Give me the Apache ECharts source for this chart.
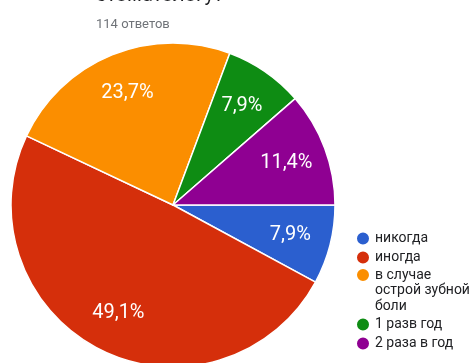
<!DOCTYPE html>
<html>
<head>
<meta charset="utf-8">
<script src="https://cdn.jsdelivr.net/npm/echarts@6/dist/echarts.min.js"></script>
<style>
  html, body { margin: 0; padding: 0; background: #fff; }
  #chart { width: 473px; height: 363px; }
</style>
</head>
<body>
<div id="chart"></div>
<script>
// Survey answers: how often respondents visit the dentist
const categories = ['никогда', 'иногда', 'в случае\nострой зубной\nболи', '1 разв год', '2 раза в год'];
const counts = [9, 56, 27, 9, 13];
const colors = ['#2b5fcf', '#d52f0b', '#fb8e00', '#0e8c13', '#8f0092'];
const titleText = 'стоматологу?';
const subtitleText = '114 ответов';

const total = counts.reduce((a, b) => a + b, 0);
const pieData = categories.map((name, i) => ({
  name: name,
  value: counts[i],
  itemStyle: { color: colors[i] }
}));

const fmtPct = v => (v / total * 100).toFixed(1).replace('.', ',') + '%';
const font = 'Roboto, "Noto Sans", sans-serif';
const center = [173, 205];

// Legend split in three blocks so the wrapped entry keeps its marker on the first line
const lineH = 15.5;
const legendText = { fontFamily: font, fontSize: 14, color: '#202124', lineHeight: lineH };
const legendBase = {
  orient: 'vertical',
  left: 355,
  icon: 'circle',
  itemWidth: 14,
  itemHeight: 14,
  itemGap: 3,
  padding: 0
};

const chart = echarts.init(document.getElementById('chart'), null, { renderer: 'canvas' });
chart.setOption({
  animation: false,
  title: [
    { text: titleText, left: 91, top: -19.5,
      textStyle: { fontFamily: font, fontSize: 20, fontWeight: 'normal', color: '#202124' } },
    { text: subtitleText, left: 91, top: 13,
      textStyle: { fontFamily: font, fontSize: 13, fontWeight: 'normal', color: '#6f7378' } }
  ],
  legend: [
    Object.assign({}, legendBase, {
      top: 230.5,
      data: categories.slice(0, 2),
      textStyle: Object.assign({ height: 16 }, legendText)
    }),
    Object.assign({}, legendBase, {
      // two leading blank lines keep the marker beside the first text line
      top: 275 - 2.5 * lineH,
      data: categories.slice(2, 3),
      formatter: '\n\n{name}',
      textStyle: legendText
    }),
    Object.assign({}, legendBase, {
      top: 316.5,
      data: categories.slice(3),
      textStyle: Object.assign({ height: 16 }, legendText)
    })
  ],
  series: [
    {
      // slices
      type: 'pie',
      center: center,
      radius: [0, 162],
      startAngle: 0,
      clockwise: true,
      data: pieData,
      label: { show: false },
      labelLine: { show: false },
      itemStyle: { borderColor: '#fff', borderWidth: 1.5 }
    },
    {
      // percentage labels placed on a transparent ring
      type: 'pie',
      center: center,
      radius: [74, 162],
      startAngle: 0,
      clockwise: true,
      silent: true,
      legendHoverLink: false,
      data: categories.map((name, i) => ({ name: name, value: counts[i] })),
      itemStyle: { color: 'rgba(0,0,0,0)', borderWidth: 0 },
      label: {
        show: true,
        position: 'inside',
        formatter: p => fmtPct(p.value),
        fontFamily: font,
        fontSize: 20,
        color: '#fff'
      },
      labelLine: { show: false },
      emphasis: { disabled: true }
    }
  ]
});
</script>
</body>
</html>
